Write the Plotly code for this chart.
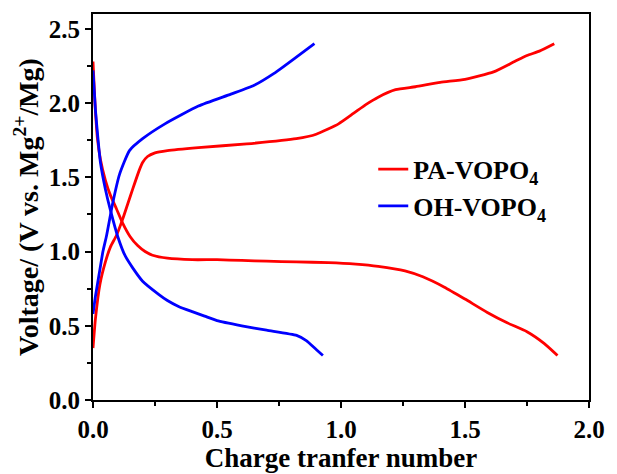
import plotly.graph_objects as go

# PA-VOPO4 (red): charge and discharge branches
pa_charge_x = [0.0, 0.01, 0.028, 0.05, 0.07, 0.095, 0.12, 0.14, 0.16, 0.187, 0.2, 0.22, 0.25, 0.3, 0.425,
               0.62, 0.82, 0.9, 0.99, 1.05, 1.1, 1.15, 1.22, 1.3, 1.4, 1.5, 1.615, 1.7, 1.75, 1.8, 1.86]
pa_charge_y = [0.35, 0.55, 0.78, 0.93, 1.03, 1.11, 1.22, 1.32, 1.42, 1.55, 1.60, 1.64, 1.665, 1.68, 1.70,
               1.725, 1.76, 1.79, 1.86, 1.93, 1.99, 2.04, 2.09, 2.11, 2.14, 2.16, 2.21, 2.28, 2.32, 2.35, 2.40]
pa_dis_x = [0.0, 0.008, 0.018, 0.03, 0.05, 0.07, 0.094, 0.12, 0.15, 0.18, 0.21, 0.24, 0.3, 0.4, 0.5, 0.6,
            0.7, 0.82, 0.95, 1.06, 1.15, 1.258, 1.33, 1.417, 1.5, 1.59, 1.67, 1.75, 1.82, 1.873]
pa_dis_y = [2.28, 2.0, 1.76, 1.62, 1.48, 1.38, 1.29, 1.19, 1.10, 1.04, 1.0, 0.975, 0.955, 0.945, 0.945, 0.94,
            0.935, 0.93, 0.925, 0.915, 0.9, 0.87, 0.83, 0.76, 0.68, 0.59, 0.52, 0.46, 0.38, 0.30]

# OH-VOPO4 (blue)
oh_charge_x = [0.0, 0.01, 0.028, 0.04, 0.055, 0.08, 0.107, 0.147, 0.2, 0.29, 0.425, 0.556, 0.65, 0.73, 0.82, 0.893]
oh_charge_y = [0.58, 0.70, 0.88, 1.0, 1.11, 1.33, 1.52, 1.68, 1.76, 1.86, 1.98, 2.06, 2.12, 2.20, 2.31, 2.40]
oh_dis_x = [0.0, 0.01, 0.02, 0.03, 0.05, 0.07, 0.1, 0.13, 0.16, 0.2, 0.266, 0.3, 0.345, 0.4, 0.45, 0.5,
            0.6, 0.7, 0.821, 0.86, 0.9, 0.927]
oh_dis_y = [2.22, 1.95, 1.76, 1.6, 1.42, 1.28, 1.1, 0.97, 0.89, 0.80, 0.71, 0.67, 0.63, 0.595, 0.565, 0.535,
            0.50, 0.47, 0.435, 0.40, 0.34, 0.30]

series_names = ["PA-VOPO<sub>4</sub>", "OH-VOPO<sub>4</sub>"]
series_colors = ["#ff0000", "#0000ff"]

x_ticks = [0.0, 0.5, 1.0, 1.5, 2.0]
y_ticks = [0.0, 0.5, 1.0, 1.5, 2.0, 2.5]

FONT = "Liberation Serif"

fig = go.Figure()
for name, color, cx, cy, dx, dy in [
    (series_names[0], series_colors[0], pa_charge_x, pa_charge_y, pa_dis_x, pa_dis_y),
    (series_names[1], series_colors[1], oh_charge_x, oh_charge_y, oh_dis_x, oh_dis_y),
]:
    fig.add_trace(go.Scatter(
        x=cx + [None] + dx, y=cy + [None] + dy, mode="lines", name=name,
        line=dict(color=color, width=2.8, shape="spline", smoothing=0.5), connectgaps=False,
    ))

axis_common = dict(
    showline=True, linecolor="black", linewidth=2, mirror=True,
    ticks="outside", ticklen=6, tickwidth=2, tickcolor="black",
    showgrid=False, zeroline=False,
    tickfont=dict(family=FONT, size=25, color="black", weight=700),
    minor=dict(ticks="outside", ticklen=4, tickwidth=2, tickcolor="black", showgrid=False),
)

fig.update_xaxes(
    range=[0, 2.0], tickvals=x_ticks, ticktext=[f"{v:.1f}" for v in x_ticks],
    minor_dtick=0.25, minor_tick0=0,
    title=dict(text="Charge tranfer number", font=dict(family=FONT, size=27, color="black", weight=700), standoff=0),
    **axis_common,
)
fig.update_yaxes(
    range=[0, 2.6], tickvals=y_ticks, ticktext=[f"{v:.1f}" for v in y_ticks],
    minor_dtick=0.25, minor_tick0=0,
    title=dict(text="Voltage/ (V vs. Mg<sup>2+</sup>/Mg)", font=dict(family=FONT, size=28, color="black", weight=700), standoff=2),
    **axis_common,
)

fig.update_layout(
    width=617, height=474,
    margin=dict(l=93, r=20, t=12, b=64),
    paper_bgcolor="white", plot_bgcolor="white",
    legend=dict(x=0.565, y=0.55, xanchor="left", yanchor="middle",
                font=dict(family=FONT, size=26, color="black", weight=700),
                bgcolor="rgba(0,0,0,0)", tracegroupgap=6),
)

fig.write_html("out.html")
